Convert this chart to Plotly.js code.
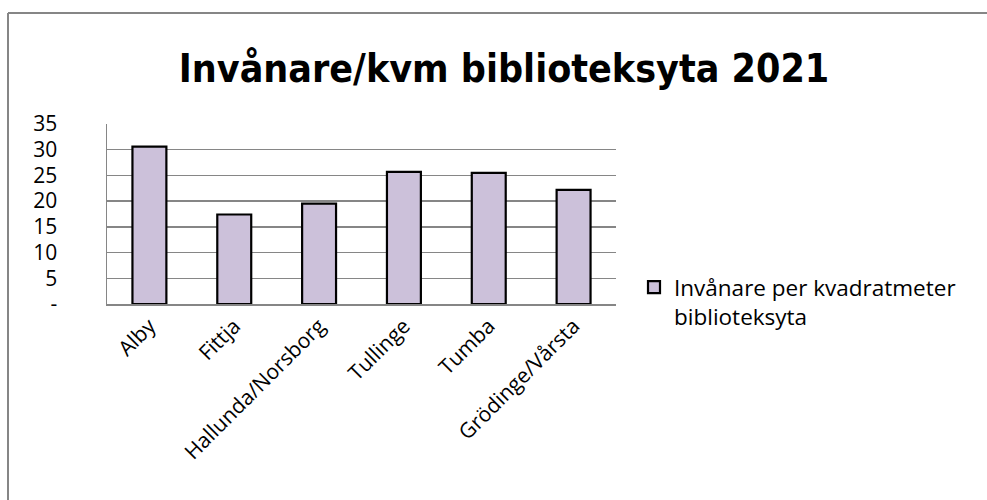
<!DOCTYPE html>
<html>
<head>
<meta charset="utf-8">
<script src="https://cdn.plot.ly/plotly-3.0.1.min.js"></script>
<style>html,body{margin:0;padding:0;background:#fff;}#chart{width:987px;height:500px;}</style>
</head>
<body>
<div id="chart"></div>
<script>
var categories = ["Alby", "Fittja", "Hallunda/Norsborg", "Tullinge", "Tumba", "Gr\u00f6dinge/V\u00e5rsta"];
var values = [30.6, 17.4, 19.5, 25.7, 25.5, 22.2];
var seriesName = "Inv\u00e5nare per kvadratmeter<br>biblioteksyta";
var titleText = "Inv\u00e5nare/kvm biblioteksyta 2021";
var yTickVals = [0, 5, 10, 15, 20, 25, 30, 35];
var yTickText = ["-", "5", "10", "15", "20", "25", "30", "35"];

var W = 987, H = 500;
var L = 107, R = 371, T = 124, B = 196;
var pw = W - L - R, ph = H - T - B;
function px(x) { return (x - L) / pw; }
function py(y) { return (H - B - y) / ph; }

var trace = {
  type: 'bar',
  x: categories,
  y: values,
  name: seriesName,
  showlegend: true,
  marker: { color: '#ccc1da', line: { color: '#000000', width: 2.2 } }
};

var layout = {
  width: W, height: H,
  margin: { l: L, r: R, t: T, b: B, pad: 0 },
  paper_bgcolor: '#ffffff',
  plot_bgcolor: '#ffffff',
  font: { family: 'Open Sans, sans-serif', color: '#000000', size: 21 },
  title: {
    text: '<b>' + titleText + '</b>',
    font: { family: '"DejaVu Sans Condensed", sans-serif', size: 39, color: '#000' },
    x: 504 / W, xanchor: 'center', xref: 'container',
    y: 1 - 68 / H, yanchor: 'middle', yref: 'container'
  },
  bargap: 0.6,
  xaxis: {
    type: 'category',
    tickangle: -45,
    tickfont: { size: 21 },
    showline: true, linecolor: '#868686', linewidth: 1.5,
    showgrid: false, ticks: '', zeroline: false
  },
  yaxis: {
    range: [0, 35],
    tickvals: yTickVals,
    ticktext: yTickText,
    tickfont: { size: 21 },
    ticklabelstandoff: 44,
    showgrid: true, gridcolor: '#868686', gridwidth: 1.5,
    showline: true, linecolor: '#868686', linewidth: 1.5,
    zeroline: false, ticks: ''
  },
  legend: {
    x: px(634), xanchor: 'left',
    y: py(266), yanchor: 'top',
    valign: 'top',
    bgcolor: 'rgba(0,0,0,0)',
    font: { size: 22.5 },
    itemwidth: 30
  },
  shapes: [
    { type: 'line', xref: 'paper', yref: 'paper', x0: px(8), x1: px(990), y0: py(13), y1: py(13), line: { color: '#868686', width: 2 } },
    { type: 'line', xref: 'paper', yref: 'paper', x0: px(8), x1: px(8), y0: py(13), y1: py(505), line: { color: '#868686', width: 2 } }
  ]
};

Plotly.newPlot('chart', [trace], layout, { staticPlot: true, displayModeBar: false });
</script>
</body>
</html>
